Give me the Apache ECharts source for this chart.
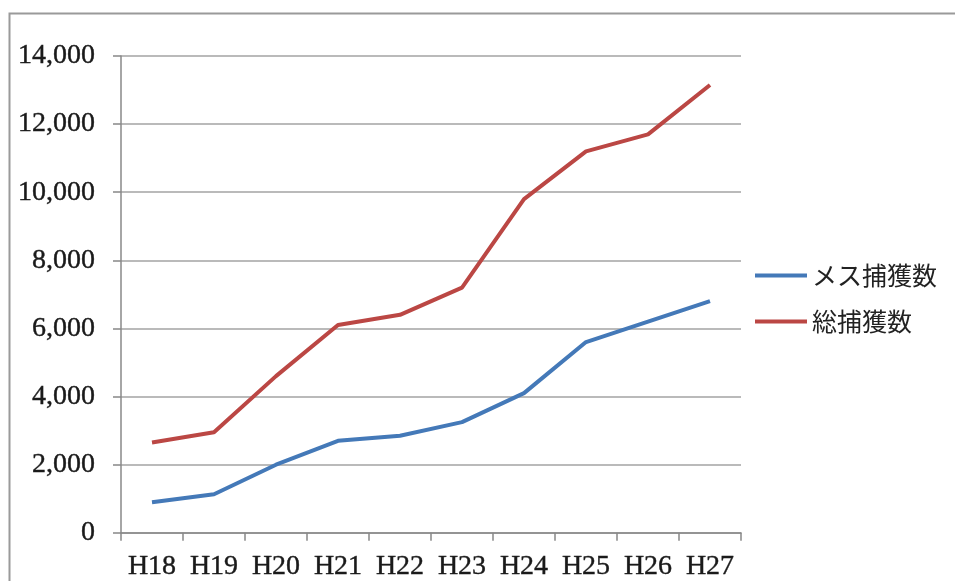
<!DOCTYPE html>
<html>
<head>
<meta charset="utf-8">
<style>
  html, body { margin: 0; padding: 0; background: #ffffff; }
  #chart { width: 955px; height: 581px; }
</style>
<script src="https://cdn.jsdelivr.net/npm/echarts@6/dist/echarts.min.js"></script>
</head>
<body>
<div id="chart"></div>
<script>
// Fiscal years (Heisei era)
const years = ['H18', 'H19', 'H20', 'H21', 'H22', 'H23', 'H24', 'H25', 'H26', 'H27'];
// Female captures
const femaleCaptures = [900, 1130, 2000, 2700, 2850, 3250, 4100, 5600, 6200, 6800];
// Total captures
const totalCaptures = [2650, 2950, 4600, 6100, 6400, 7200, 9800, 11200, 11700, 13150];
// Value axis ticks
const yMin = 0, yMax = 14000, yStep = 2000;

const serif = '"Liberation Serif", "DejaVu Serif", serif';
const jp = '"Noto Sans CJK JP", sans-serif';

const chart = echarts.init(document.getElementById('chart'), null, { renderer: 'canvas' });

chart.setOption({
  backgroundColor: '#ffffff',
  animation: false,
  graphic: [{
    type: 'rect',
    shape: { x: 9.5, y: 13.5, width: 1000, height: 700 },
    style: { fill: 'none', stroke: '#9a9a9a', lineWidth: 2 },
    silent: true
  }],
  grid: { left: 121, right: 214, top: 56, bottom: 47 },
  legend: {
    orient: 'vertical',
    left: 750,
    top: 258,
    itemWidth: 52,
    itemHeight: 14,
    itemGap: 21,
    icon: 'path://M0,6 L52,6 L52,10 L0,10 Z',
    textStyle: { fontFamily: jp, fontSize: 25, color: '#222' },
    data: ['メス捕獲数', '総捕獲数']
  },
  xAxis: {
    type: 'category',
    data: years,
    boundaryGap: true,
    axisLine: { lineStyle: { color: '#888', width: 1.5 } },
    axisTick: { show: true, length: 8, interval: 0, lineStyle: { color: '#888', width: 1.5 } },
    axisLabel: {
      fontFamily: serif, fontSize: 28, color: '#1a1a1a', margin: 20, interval: 0,
      textBorderColor: '#1a1a1a', textBorderWidth: 0.4
    }
  },
  yAxis: {
    type: 'value',
    min: yMin,
    max: yMax,
    interval: yStep,
    axisLine: { show: true, lineStyle: { color: '#888', width: 1.5 } },
    axisTick: { show: true, length: 8, lineStyle: { color: '#888', width: 1.5 } },
    splitLine: { lineStyle: { color: '#a3a3a3', width: 1.5 } },
    axisLabel: {
      fontFamily: serif, fontSize: 28, color: '#1a1a1a', margin: 26,
      textBorderColor: '#1a1a1a', textBorderWidth: 0.4,
      formatter: v => v.toLocaleString('en-US')
    }
  },
  series: [
    {
      name: 'メス捕獲数',
      type: 'line',
      data: femaleCaptures,
      symbol: 'none',
      lineStyle: { color: '#4479b8', width: 4 },
      itemStyle: { color: '#4479b8' }
    },
    {
      name: '総捕獲数',
      type: 'line',
      data: totalCaptures,
      symbol: 'none',
      lineStyle: { color: '#bb4744', width: 4 },
      itemStyle: { color: '#bb4744' }
    }
  ]
});
</script>
</body>
</html>
